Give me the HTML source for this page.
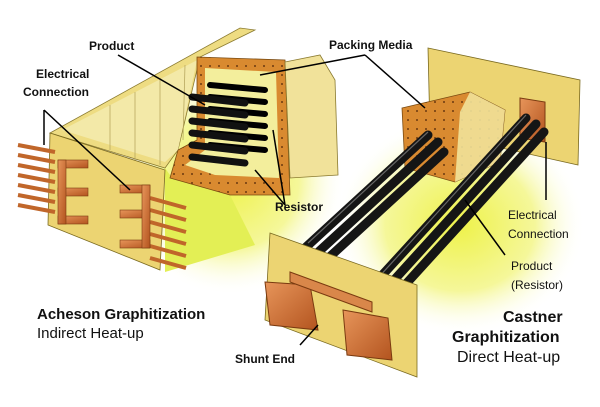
<!DOCTYPE html>
<html><head><meta charset="utf-8"><style>
html,body{margin:0;padding:0;background:#fff;}
svg{display:block;}
text{font-family:"Liberation Sans",sans-serif;fill:#111;}
</style></head><body>
<svg width="600" height="407" viewBox="0 0 600 407" xmlns="http://www.w3.org/2000/svg">
<defs>
<pattern id="dots" width="9" height="9" patternUnits="userSpaceOnUse"><rect width="9" height="9" fill="#d98a30"/><circle cx="3" cy="3" r="1" fill="#6b3a10"/></pattern>
<radialGradient id="glow" cx="0.5" cy="0.5" r="0.5"><stop offset="0" stop-color="#eef24a"/><stop offset="0.6" stop-color="#f5f79a"/><stop offset="1" stop-color="#fff" stop-opacity="0"/></radialGradient>
<linearGradient id="cu" x1="0" y1="0" x2="1" y2="1"><stop offset="0" stop-color="#e7955a"/><stop offset="1" stop-color="#b3541f"/></linearGradient>
</defs>
<ellipse cx="230" cy="180" rx="115" ry="115" fill="url(#glow)"/>
<ellipse cx="460" cy="225" rx="125" ry="110" fill="url(#glow)"/>

<!-- LEFT FURNACE -->
<polygon points="50,133 240,28 255,30 200,57 178,150 165,168" fill="#eedc82" stroke="#8a7a30" stroke-width="0.8"/>
<polygon points="62,130 240,38 197,60 178,150 165,162" fill="#f3e9a8"/>
<g stroke="#b8a860" stroke-width="0.8"><line x1="110" y1="105" x2="110" y2="150"/><line x1="135" y1="92" x2="135" y2="160"/><line x1="160" y1="78" x2="160" y2="165"/><line x1="185" y1="65" x2="183" y2="140"/></g>
<polygon points="165,168 172,178 230,195 255,245 165,272" fill="#e3ef55"/>
<polygon points="197,57 285,60 290,195 230,195 170,178 178,150 197,140" fill="url(#dots)" stroke="#7a4a10" stroke-width="0.8"/>
<polygon points="205,68 276,72 279,178 215,175 185,165 205,150" fill="#f3ee9c"/>
<g stroke="#000" stroke-width="6" stroke-linecap="round">
<line x1="210" y1="85" x2="265" y2="90"/><line x1="210" y1="97" x2="265" y2="102"/><line x1="210" y1="109" x2="265" y2="114"/><line x1="210" y1="121" x2="265" y2="126"/><line x1="210" y1="133" x2="265" y2="138"/><line x1="210" y1="145" x2="265" y2="150"/>
</g>
<g stroke="#111" stroke-width="7" stroke-linecap="round">
<line x1="192" y1="97" x2="245" y2="103"/><line x1="192" y1="109" x2="245" y2="115"/><line x1="192" y1="121" x2="245" y2="127"/><line x1="192" y1="133" x2="245" y2="139"/><line x1="192" y1="145" x2="245" y2="151"/><line x1="192" y1="157" x2="245" y2="163"/>
</g>
<polygon points="285,62 320,55 335,80 338,175 290,178" fill="#f1e29a" stroke="#8a7a30" stroke-width="0.8"/>
<polygon points="50,133 165,170 160,270 48,225" fill="#ecd472" stroke="#7a6a20" stroke-width="0.8"/>
<g stroke="#c0662a" stroke-width="4">
<line x1="18" y1="145" x2="55" y2="152"/><line x1="18" y1="155" x2="55" y2="162"/><line x1="18" y1="165" x2="55" y2="172"/><line x1="18" y1="175" x2="55" y2="182"/><line x1="18" y1="185" x2="55" y2="192"/><line x1="18" y1="195" x2="55" y2="202"/><line x1="18" y1="205" x2="55" y2="212"/>
<line x1="150" y1="198" x2="186" y2="208"/><line x1="150" y1="210" x2="186" y2="220"/><line x1="150" y1="222" x2="186" y2="232"/><line x1="150" y1="234" x2="186" y2="244"/><line x1="150" y1="246" x2="186" y2="256"/><line x1="150" y1="258" x2="186" y2="268"/>
</g>
<g fill="url(#cu)" stroke="#7a3a10" stroke-width="0.6">
<rect x="58" y="160" width="30" height="8"/><rect x="58" y="188" width="30" height="8"/><rect x="58" y="216" width="30" height="8"/><rect x="58" y="160" width="8" height="64"/>
<rect x="120" y="185" width="30" height="8"/><rect x="120" y="210" width="30" height="8"/><rect x="120" y="240" width="30" height="8"/><rect x="142" y="185" width="8" height="63"/>
</g>

<!-- RIGHT FURNACE -->
<polygon points="428,48 580,80 578,165 430,132" fill="#ecd472" stroke="#7a6a20" stroke-width="0.8"/>
<polygon points="520,98 545,102 545,142 520,138" fill="url(#cu)" stroke="#7a3a10"/>
<polygon points="402,108 470,92 505,110 500,162 455,182 405,168" fill="url(#dots)" stroke="#7a4a10" stroke-width="0.8"/>
<polygon points="470,92 505,110 500,162 455,182 460,112" fill="#f1e29a" opacity="0.9"/>
<g stroke="#151515" stroke-width="9" stroke-linecap="round">
<line x1="305" y1="248" x2="428" y2="135"/><line x1="314" y1="256" x2="438" y2="142"/><line x1="324" y1="262" x2="444" y2="152"/>
<line x1="375" y1="283" x2="526" y2="118"/><line x1="385" y1="290" x2="536" y2="124"/><line x1="395" y1="296" x2="544" y2="132"/>
</g>
<g stroke="#666" stroke-width="1.2"><line x1="308" y1="243" x2="428" y2="132"/><line x1="378" y1="278" x2="526" y2="115"/></g>
<polygon points="270,233 417,285 417,377 265,320" fill="#ecd472" stroke="#7a6a20" stroke-width="0.8"/>
<polygon points="265,282 310,285 318,330 270,325" fill="url(#cu)" stroke="#7a3a10"/>
<polygon points="343,310 388,318 392,360 347,355" fill="url(#cu)" stroke="#7a3a10"/>
<polygon points="290,272 372,302 372,312 290,282" fill="#d9874a" stroke="#7a3a10"/>

<g stroke="#000" stroke-width="1.5" fill="none">
<polyline points="118,55 205,105"/>
<polyline points="44,110 44,145"/><polyline points="44,110 130,190"/>
<polyline points="365,55 260,75"/><polyline points="365,55 425,108"/>
<polyline points="285,205 255,170"/><polyline points="285,205 273,130"/>
<polyline points="546,142 546,200"/>
<polyline points="505,255 465,200"/>
<polyline points="300,345 318,325"/>
</g>

<g font-weight="bold" font-size="12">
<text x="89" y="50">Product</text>
<text x="36" y="78">Electrical</text>
<text x="23" y="96">Connection</text>
<text x="329" y="49">Packing Media</text>
<text x="275" y="211">Resistor</text>
<text x="235" y="363">Shunt End</text>
</g>
<g font-size="12">
<text x="508" y="219">Electrical</text>
<text x="508" y="238">Connection</text>
<text x="511" y="270">Product</text>
<text x="511" y="289">(Resistor)</text>
</g>
<text x="37" y="319" font-size="15" font-weight="bold">Acheson Graphitization</text>
<text x="37" y="338" font-size="15">Indirect Heat-up</text>
<text x="503" y="322" font-size="16" font-weight="bold">Castner</text>
<text x="452" y="342" font-size="16" font-weight="bold">Graphitization</text>
<text x="457" y="362" font-size="16">Direct Heat-up</text>
</svg>
</body></html>
